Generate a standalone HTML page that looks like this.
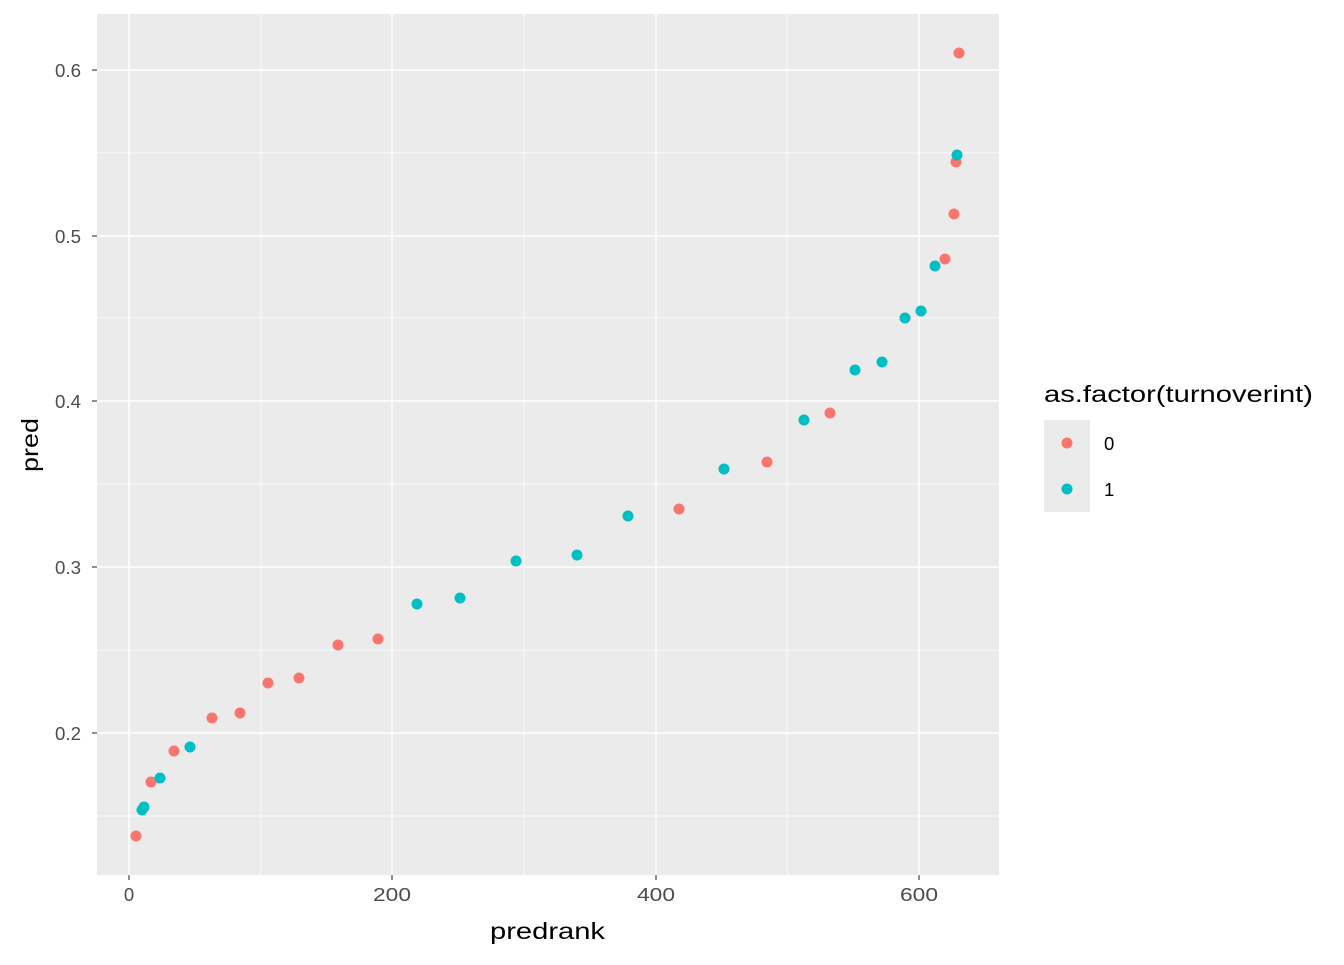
<!DOCTYPE html>
<html><head><style>body{margin:0;background:#fff}</style></head><body>
<svg width="1344" height="960" xmlns="http://www.w3.org/2000/svg" font-family="Liberation Sans, Arial, sans-serif">
<rect x="97" y="14" width="902" height="861" fill="#EBEBEB"/>
<g stroke="#fff" stroke-width="0.7">
<line x1="261" x2="261" y1="14" y2="875"/><line x1="524" x2="524" y1="14" y2="875"/><line x1="787" x2="787" y1="14" y2="875"/>
<line x1="97" x2="999" y1="153" y2="153"/><line x1="97" x2="999" y1="318" y2="318"/><line x1="97" x2="999" y1="484" y2="484"/><line x1="97" x2="999" y1="650" y2="650"/><line x1="97" x2="999" y1="816" y2="816"/>
</g>
<g stroke="#fff" stroke-width="1.5">
<line x1="129" x2="129" y1="14" y2="875"/><line x1="392" x2="392" y1="14" y2="875"/><line x1="656" x2="656" y1="14" y2="875"/><line x1="919" x2="919" y1="14" y2="875"/>
<line x1="97" x2="999" y1="70" y2="70"/><line x1="97" x2="999" y1="236" y2="236"/><line x1="97" x2="999" y1="401" y2="401"/><line x1="97" x2="999" y1="567" y2="567"/><line x1="97" x2="999" y1="733" y2="733"/>
</g>
<g stroke="#333" stroke-width="1.1">
<line x1="129" x2="129" y1="875" y2="880"/><line x1="392" x2="392" y1="875" y2="880"/><line x1="656" x2="656" y1="875" y2="880"/><line x1="919" x2="919" y1="875" y2="880"/>
<line x1="92" x2="97" y1="70" y2="70"/><line x1="92" x2="97" y1="236" y2="236"/><line x1="92" x2="97" y1="401" y2="401"/><line x1="92" x2="97" y1="567" y2="567"/><line x1="92" x2="97" y1="733" y2="733"/>
</g>
<g fill="#4D4D4D" font-size="18.5" text-anchor="middle">
<text x="129" y="901">0</text>
<text x="392" y="901" textLength="38" lengthAdjust="spacingAndGlyphs">200</text>
<text x="656" y="901" textLength="38" lengthAdjust="spacingAndGlyphs">400</text>
<text x="919" y="901" textLength="38" lengthAdjust="spacingAndGlyphs">600</text>
</g>
<g fill="#4D4D4D" font-size="18.5" text-anchor="end">
<text x="81" y="77" textLength="26" lengthAdjust="spacingAndGlyphs">0.6</text>
<text x="81" y="243" textLength="26" lengthAdjust="spacingAndGlyphs">0.5</text>
<text x="81" y="408" textLength="26" lengthAdjust="spacingAndGlyphs">0.4</text>
<text x="81" y="574" textLength="26" lengthAdjust="spacingAndGlyphs">0.3</text>
<text x="81" y="740" textLength="26" lengthAdjust="spacingAndGlyphs">0.2</text>
</g>
<text x="490" y="939" font-size="23" textLength="115" lengthAdjust="spacingAndGlyphs">predrank</text>
<text transform="translate(38,472) rotate(-90)" font-size="23" textLength="54" lengthAdjust="spacingAndGlyphs">pred</text>
<g fill="#F8766D">
<circle cx="136" cy="836" r="5.5"/><circle cx="151" cy="782" r="5.5"/><circle cx="174" cy="751" r="5.5"/><circle cx="212" cy="718" r="5.5"/><circle cx="240" cy="713" r="5.5"/><circle cx="268" cy="683" r="5.5"/><circle cx="299" cy="678" r="5.5"/><circle cx="338" cy="645" r="5.5"/><circle cx="378" cy="639" r="5.5"/><circle cx="679" cy="509" r="5.5"/><circle cx="767" cy="462" r="5.5"/><circle cx="830" cy="413" r="5.5"/><circle cx="945" cy="259" r="5.5"/><circle cx="954" cy="214" r="5.5"/><circle cx="956" cy="162" r="5.5"/><circle cx="959" cy="53" r="5.5"/>
</g>
<g fill="#00BFC4">
<circle cx="142" cy="810" r="5.5"/><circle cx="144" cy="807" r="5.5"/><circle cx="160" cy="778" r="5.5"/><circle cx="190" cy="747" r="5.5"/><circle cx="417" cy="604" r="5.5"/><circle cx="460" cy="598" r="5.5"/><circle cx="516" cy="561" r="5.5"/><circle cx="577" cy="555" r="5.5"/><circle cx="628" cy="516" r="5.5"/><circle cx="724" cy="469" r="5.5"/><circle cx="804" cy="420" r="5.5"/><circle cx="855" cy="370" r="5.5"/><circle cx="882" cy="362" r="5.5"/><circle cx="905" cy="318" r="5.5"/><circle cx="921" cy="311" r="5.5"/><circle cx="935" cy="266" r="5.5"/><circle cx="957" cy="155" r="5.5"/>
</g>
<text x="1044" y="402" font-size="23" textLength="269" lengthAdjust="spacingAndGlyphs">as.factor(turnoverint)</text>
<rect x="1044" y="420" width="46" height="46" fill="#EBEBEB"/>
<rect x="1044" y="466" width="46" height="46" fill="#EBEBEB"/>
<circle cx="1067" cy="443" r="5.5" fill="#F8766D"/>
<circle cx="1067" cy="489" r="5.5" fill="#00BFC4"/>
<text x="1104" y="450" font-size="18.5">0</text>
<text x="1104" y="496" font-size="18.5">1</text>
</svg>
</body></html>
